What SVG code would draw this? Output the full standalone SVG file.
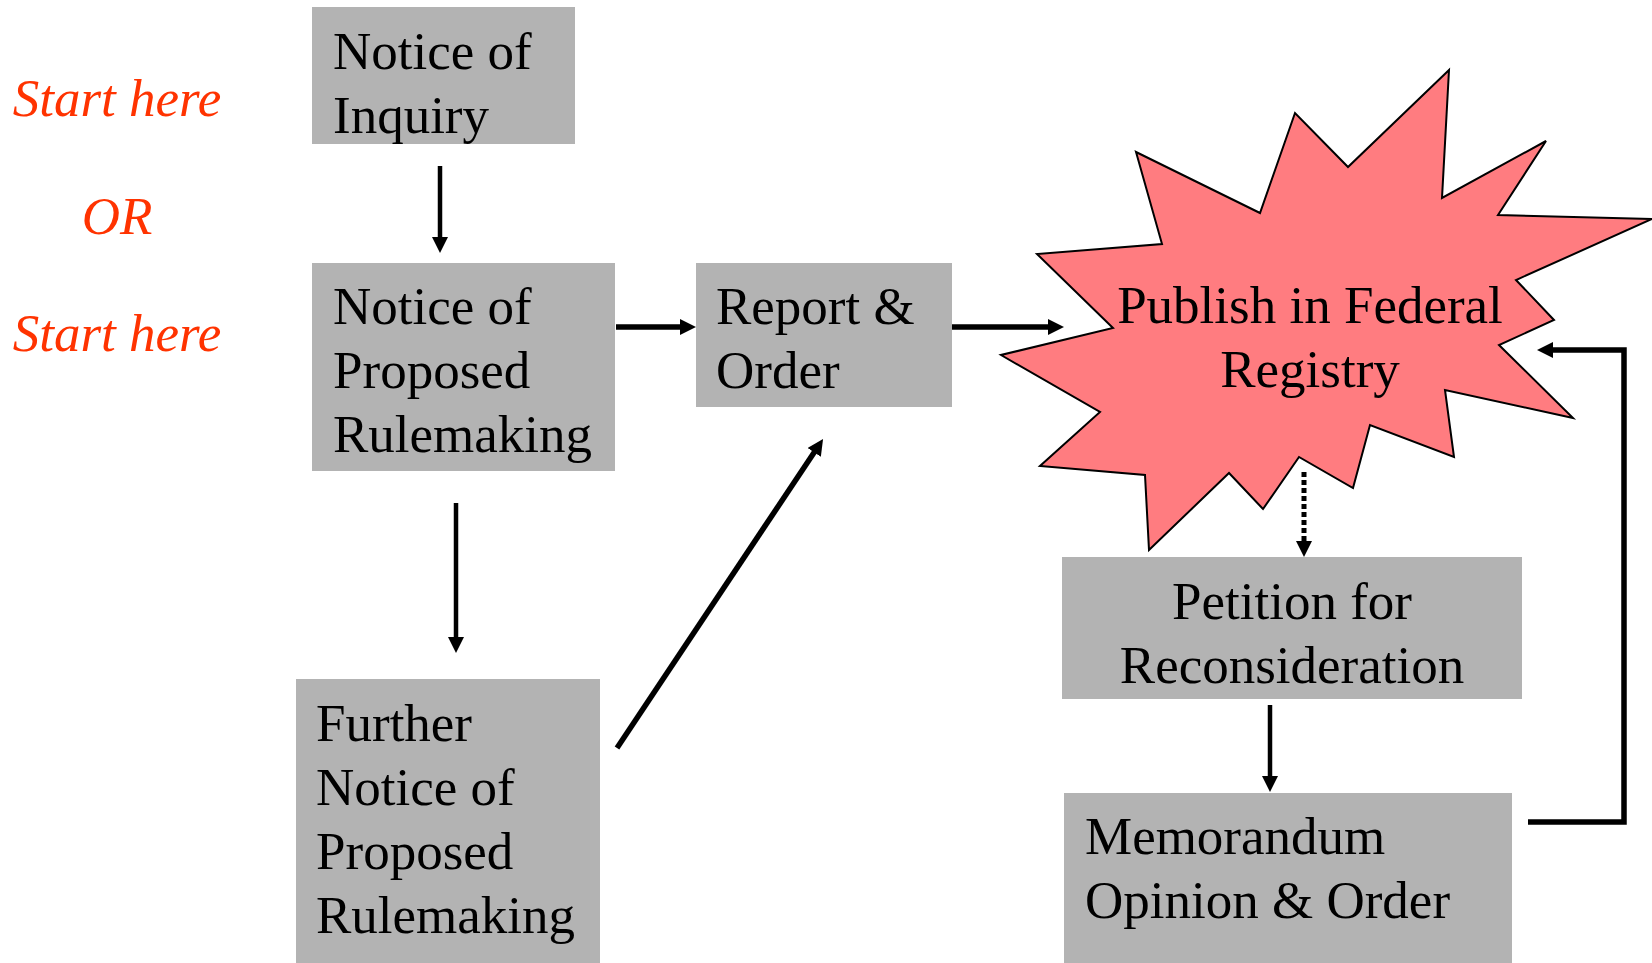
<svg xmlns="http://www.w3.org/2000/svg" width="1652" height="963" viewBox="0 0 1652 963">
<defs>
<style>
.box{fill:#B3B3B3}
.t{font-family:"Liberation Serif","Times New Roman",serif;font-size:53px;fill:#000}
.red{font-family:"Liberation Serif","Times New Roman",serif;font-size:53px;font-style:italic;fill:#FF3300}
.c{fill:none;stroke:#000;stroke-width:4.5}
.h{fill:none;stroke:#000;stroke-width:5.5}
.d{fill:none;stroke:#000;stroke-width:5;stroke-dasharray:5 3}
</style>
<marker id="ah" viewBox="0 0 16 16" refX="8" refY="8" markerWidth="16" markerHeight="16" markerUnits="userSpaceOnUse" orient="auto">
<path d="M0,0 L16,8 L0,16 z" fill="#000"/>
</marker>
</defs>
<rect width="1652" height="963" fill="#fff"/>
<g id="labels">
<text class="red" x="117" y="116" text-anchor="middle">Start here</text>
<text class="red" x="117" y="234" text-anchor="middle">OR</text>
<text class="red" x="117" y="351" text-anchor="middle">Start here</text>
</g>
<g id="noi">
<rect class="box" x="312" y="7" width="263" height="137"/>
<text class="t" x="333" y="69">Notice of</text>
<text class="t" x="333" y="133">Inquiry</text>
</g>
<g id="nprm">
<rect class="box" x="312" y="263" width="303" height="208"/>
<text class="t" x="333" y="324">Notice of</text>
<text class="t" x="333" y="388">Proposed</text>
<text class="t" x="333" y="452">Rulemaking</text>
</g>
<g id="ro">
<rect class="box" x="696" y="263" width="256" height="144"/>
<text class="t" x="716" y="324">Report &amp;</text>
<text class="t" x="716" y="388">Order</text>
</g>
<g id="fnprm">
<rect class="box" x="296" y="679" width="304" height="284"/>
<text class="t" x="316" y="741">Further</text>
<text class="t" x="316" y="805">Notice of</text>
<text class="t" x="316" y="869">Proposed</text>
<text class="t" x="316" y="933">Rulemaking</text>
</g>
<g id="publish">
<polygon points="1449,70 1442,198 1546,141 1498,215 1652,219 1516,280 1554,320 1499,345 1573,418 1445,390 1454,457 1370,425 1353,488 1299,457 1263,509 1229,473 1149,550 1145,475 1040,466 1100,412 1001,355 1113,328 1037,254 1162,244 1136,152 1260,213 1295,113 1348,167" fill="#FF7C80" stroke="#000" stroke-width="2" stroke-linejoin="miter"/>
<text class="t" x="1310" y="323" text-anchor="middle">Publish in Federal</text>
<text class="t" x="1310" y="387" text-anchor="middle">Registry</text>
</g>
<g id="petition">
<rect class="box" x="1062" y="557" width="460" height="142"/>
<text class="t" x="1292" y="619" text-anchor="middle">Petition for</text>
<text class="t" x="1292" y="683" text-anchor="middle">Reconsideration</text>
</g>
<g id="memo">
<rect class="box" x="1064" y="793" width="448" height="170"/>
<text class="t" x="1085" y="854">Memorandum</text>
<text class="t" x="1085" y="918">Opinion &amp; Order</text>
</g>
<g id="connectors">
<line class="c" x1="440" y1="166" x2="440" y2="245" marker-end="url(#ah)"/>
<line class="c" x1="456" y1="503" x2="456" y2="645" marker-end="url(#ah)"/>
<line class="h" x1="616" y1="327" x2="688" y2="327" marker-end="url(#ah)"/>
<line class="h" x1="952" y1="327" x2="1056" y2="327" marker-end="url(#ah)"/>
<line class="h" x1="617" y1="748" x2="818.6" y2="445.7" marker-end="url(#ah)"/>
<line class="d" x1="1304" y1="472" x2="1304" y2="549" marker-end="url(#ah)"/>
<line class="c" x1="1270" y1="705" x2="1270" y2="784" marker-end="url(#ah)"/>
<polyline class="h" points="1528,822 1624,822 1624,350 1545,350" marker-end="url(#ah)"/>
</g>
</svg>
